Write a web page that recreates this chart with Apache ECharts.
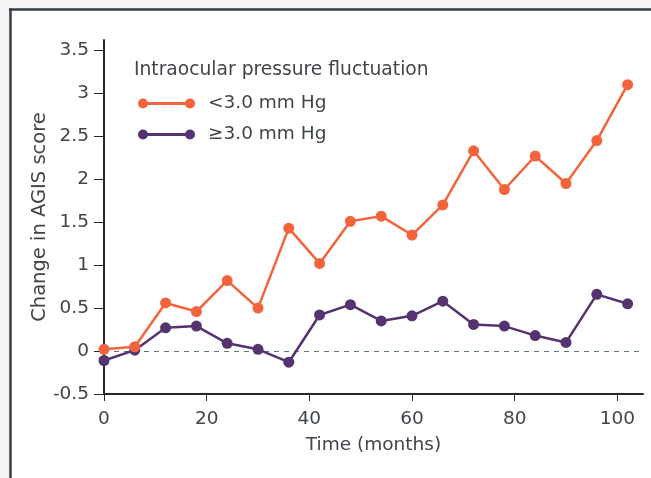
<!DOCTYPE html>
<html>
<head>
<meta charset="utf-8">
<script src="https://cdn.jsdelivr.net/npm/echarts@6/dist/echarts.min.js"></script>
<style>
html,body{margin:0;padding:0;background:#f4f4f4;}
#chart{width:651px;height:478px;}
</style>
</head>
<body>
<div id="chart"></div>
<script>
var months = [0, 6, 12, 18, 24, 30, 36, 42, 48, 54, 60, 66, 72, 78, 84, 90, 96, 102];
var lowFluct = [0.02, 0.05, 0.56, 0.46, 0.82, 0.50, 1.43, 1.02, 1.51, 1.57, 1.35, 1.70, 2.33, 1.88, 2.27, 1.95, 2.45, 3.10];
var highFluct = [-0.11, 0.01, 0.27, 0.29, 0.09, 0.02, -0.13, 0.42, 0.54, 0.35, 0.41, 0.58, 0.31, 0.29, 0.18, 0.10, 0.66, 0.55];
var xTicks = [0, 20, 40, 60, 80, 100];
var yTicks = [-0.5, 0, 0.5, 1, 1.5, 2, 2.5, 3, 3.5];
var seriesNames = ['<3.0 mm Hg', '\u22653.0 mm Hg'];
var legendTitle = 'Intraocular pressure fluctuation';
var xName = 'Time (months)';
var yName = 'Change in AGIS score';

var FONT = 'DejaVu Sans';
var TXT = '#40454a';
var ORANGE = '#f3643c';
var PURPLE = '#553370';
var AXIS = '#22282e';

function pairs(xs, ys) { return xs.map(function (x, i) { return [x, ys[i]]; }); }

var chart = echarts.init(document.getElementById('chart'), null, {renderer: 'canvas'});
var icon = 'path://M0,5a5,5 0 1,1 10,0a5,5 0 1,1 -10,0z M9,3.5h39v3h-39z M47,5a5,5 0 1,1 10,0a5,5 0 1,1 -10,0z';

chart.setOption({
  backgroundColor: '#f4f4f4',
  animation: false,
  textStyle: {fontFamily: FONT},
  graphic: [
    {type: 'rect', shape: {x: 10, y: 9, width: 641, height: 469}, style: {fill: '#ffffff'}, z: -10},
    {type: 'line', shape: {x1: 9, y1: 9.5, x2: 651, y2: 9.5}, style: {stroke: '#363c44', lineWidth: 2.5}},
    {type: 'line', shape: {x1: 10.5, y1: 8.5, x2: 10.5, y2: 478}, style: {stroke: '#363c44', lineWidth: 2.5}}
  ],
  title: {
    text: legendTitle,
    left: 134, top: 61, padding: 0,
    textStyle: {fontFamily: FONT, fontSize: 18.7, fontWeight: 'normal', color: TXT}
  },
  legend: {
    data: seriesNames,
    orient: 'vertical',
    left: 138, top: 94,
    itemWidth: 57, itemHeight: 10, itemGap: 12,
    padding: 0,
    icon: icon,
    textStyle: {fontFamily: FONT, fontSize: 18.5, color: TXT, padding: [0, 0, 0, 8]}
  },
  grid: {left: 104, right: 8, top: 40, bottom: 84, containLabel: false},
  xAxis: {
    type: 'value', min: 0, max: 105,
    name: xName, nameLocation: 'middle', nameGap: 42,
    nameTextStyle: {fontFamily: FONT, fontSize: 18.5, color: TXT},
    axisLine: {show: true, onZero: false, lineStyle: {color: AXIS, width: 2}},
    axisTick: {show: true, length: 7, customValues: xTicks, lineStyle: {color: AXIS, width: 1}},
    axisLabel: {customValues: xTicks, margin: 16, fontFamily: FONT, fontSize: 18.5, color: TXT},
    splitLine: {show: false}
  },
  yAxis: {
    type: 'value', min: -0.5, max: 3.62,
    name: yName, nameLocation: 'middle', nameGap: 54, nameRotate: 90, nameMoveOverlap: false,
    nameTextStyle: {fontFamily: FONT, fontSize: 19.5, color: TXT},
    axisLine: {show: true, onZero: false, lineStyle: {color: AXIS, width: 2}},
    axisTick: {show: true, length: 10, customValues: yTicks, lineStyle: {color: AXIS, width: 1}},
    axisLabel: {customValues: yTicks, margin: 15, fontFamily: FONT, fontSize: 18.5, color: TXT},
    splitLine: {show: false}
  },
  series: [
    {
      name: seriesNames[1], type: 'line', data: pairs(months, highFluct),
      symbol: 'circle', symbolSize: 11,
      lineStyle: {color: PURPLE, width: 2.5}, itemStyle: {color: PURPLE},
      markLine: {
        silent: true, symbol: 'none', label: {show: false},
        lineStyle: {color: '#5f7a70', type: [5, 5], width: 1},
        data: [{yAxis: 0}], z: 1
      }
    },
    {
      name: seriesNames[0], type: 'line', data: pairs(months, lowFluct),
      symbol: 'circle', symbolSize: 11,
      lineStyle: {color: ORANGE, width: 2.5}, itemStyle: {color: ORANGE}
    }
  ]
});
</script>
</body>
</html>
